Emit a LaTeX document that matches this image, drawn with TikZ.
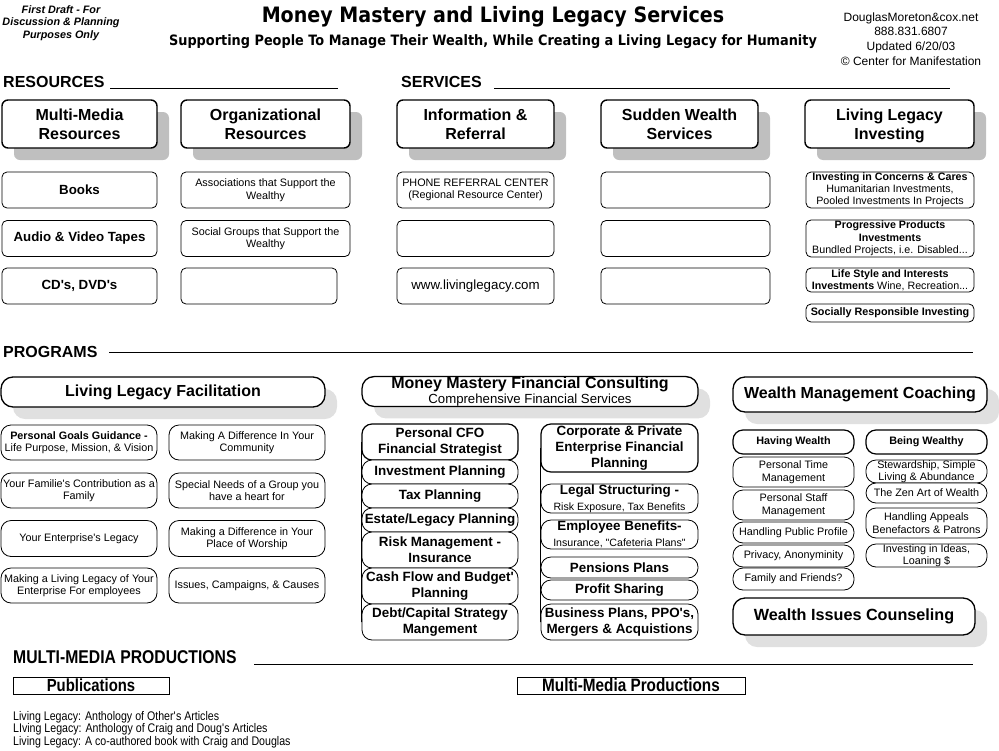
\documentclass[tikz,border=0pt]{standalone}
\usepackage{fontspec}
\setmainfont{Liberation Sans}
\newfontfamily\titlefont[FakeStretch=0.9]{DejaVu Sans}
\newfontfamily\narrowfont[FakeStretch=0.85]{Liberation Sans}
\usetikzlibrary{shadows}
\tikzset{
  sz/.style 2 args={minimum width=#1pt, minimum height=#2pt},
  headbox/.style={draw, line width=1.4pt, rounded corners=6pt, fill=white, align=center,
    inner sep=0pt, text depth=0pt, font=\bfseries\fontsize{16}{19}\selectfont,
    drop shadow={shadow xshift=12pt, shadow yshift=-12pt, fill=black!25, opacity=1}},
  subbox/.style={draw, line width=0.8pt, rounded corners=5pt, fill=white, align=center,
    inner sep=0pt, font=\fontsize{10.8}{12.5}\selectfont},
  progbox/.style={draw, line width=1.3pt, rounded corners=12pt, fill=white, align=center,
    inner sep=0pt, drop shadow={shadow xshift=12pt, shadow yshift=-12pt, fill=black!12, opacity=1}},
  itembox/.style={draw, line width=0.8pt, rounded corners=10pt, fill=white, align=center,
    inner sep=0pt, font=\fontsize{10.8}{12.5}\selectfont},
  boldbox/.style={itembox, font=\bfseries\fontsize{13.4}{16}\selectfont},
  seclabel/.style={anchor=base west, inner sep=0pt, font=\bfseries\fontsize{16}{18}\selectfont},
  secrule/.style={line width=0.8pt},
  pubbox/.style={draw, line width=0.8pt, inner sep=0pt, font=\narrowfont\bfseries\fontsize{17.5}{18}\selectfont}
}
\newcommand{\bx}[1]{{\bfseries #1}}
\newcommand{\ap}{\textquotesingle}
\begin{document}
\begin{tikzpicture}[x=1pt, y=-1pt]
\useasboundingbox (0,0) rectangle (999,750);

% header
\node[font=\bfseries\itshape\fontsize{10.8}{12.5}\selectfont, align=center] (draft) at (61,23)
  {First Draft - For\\Discussion \& Planning\\Purposes Only};
\node[font=\titlefont\bfseries\fontsize{21.2}{24}\selectfont] (title) at (493,17)
  {Money Mastery and Living Legacy Services};
\node[font=\titlefont\bfseries\fontsize{14.3}{16}\selectfont] (subtitle) at (493,42)
  {Supporting People To Manage Their Wealth, While Creating a Living Legacy for Humanity};
\node[font=\fontsize{12}{14.7}\selectfont, align=center] (contact) at (911,39)
  {DouglasMoreton\&cox.net\\888.831.6807\\Updated 6/20/03\\\textcopyright{} Center for Manifestation};

% section rules
\node[seclabel] (reslbl) at (3,87) {RESOURCES};
\node[seclabel] (serlbl) at (401,87) {SERVICES};
\node[seclabel] (prolbl) at (3,357) {PROGRAMS};
\node[seclabel, font=\narrowfont\bfseries\fontsize{18.5}{20}\selectfont] (mmplbl) at (13,663) {MULTI-MEDIA PRODUCTIONS};
\coordinate (resa) at (110,88); \coordinate (resb) at (338,88);
\coordinate (sera) at (494,88); \coordinate (serb) at (950,88);
\coordinate (proa) at (109,352); \coordinate (prob) at (973,352);
\coordinate (mmpa) at (254,664); \coordinate (mmpb) at (973,664);
\draw[secrule] (resa) -- (resb);
\draw[secrule] (sera) -- (serb);
\draw[secrule] (proa) -- (prob);
\draw[secrule] (mmpa) -- (mmpb);

% resources
\node[headbox, sz={155}{48}] (mmres) at (79.5,124) {Multi-Media\\Resources};
\node[headbox, sz={169}{48}] (orgres) at (265.5,124) {Organizational\\Resources};
\node[subbox, sz={155}{36}, font=\bfseries\fontsize{13.3}{15}\selectfont] (books) at (79.5,190) {Books};
\node[subbox, sz={155}{36}, font=\bfseries\fontsize{13.3}{15}\selectfont] (tapes) at (79.5,238.5) {Audio \& Video Tapes};
\node[subbox, sz={155}{36}, font=\bfseries\fontsize{13.3}{15}\selectfont] (cds) at (79.5,286) {CD\ap s, DVD\ap s};
\node[subbox, sz={169}{36}] (assoc) at (265.5,190) {Associations that Support the\\Wealthy};
\node[subbox, sz={169}{36}] (social) at (265.5,238.5) {Social Groups that Support the\\Wealthy};
\node[subbox, sz={156}{36}] (orgempty) at (259,286) {};

% services
\node[headbox, sz={157}{48}] (inforef) at (475.5,124) {Information \&\\Referral};
\node[headbox, sz={157}{48}] (sudden) at (679.5,124) {Sudden Wealth\\Services};
\node[headbox, sz={169}{48}] (llinv) at (889.5,124) {Living Legacy\\Investing};
\node[subbox, sz={157}{36}] (phone) at (475.5,190) {PHONE REFERRAL CENTER\\(Regional Resource Center)};
\node[subbox, sz={157}{36}, font=\fontsize{13.3}{15}\selectfont] (web) at (475.5,286) {www.livinglegacy.com};
\node[subbox, sz={157}{36}] (infoempty) at (475.5,238.5) {};
\node[subbox, sz={169}{36}] (swa) at (685.5,190) {};
\node[subbox, sz={169}{36}] (swb) at (685.5,238.5) {};
\node[subbox, sz={169}{36}] (swc) at (685.5,286) {};
\node[subbox, sz={168}{36}, font=\fontsize{10.7}{12}\selectfont] (concerns) at (890,190)
  {\bx{Investing in Concerns \& Cares}\\Humanitarian Investments,\\Pooled Investments In Projects};
\node[subbox, sz={168}{37}, font=\fontsize{10.7}{12.3}\selectfont] (progress) at (890,238.5)
  {\bx{Progressive Products}\\\bx{Investments}\\Bundled Projects, i.e. Disabled...};
\node[subbox, sz={168}{24}, font=\fontsize{10.7}{12}\selectfont] (lifestyle) at (890,280)
  {\bx{Life Style and Interests}\\\bx{Investments} Wine, Recreation...};
\node[subbox, sz={168}{18}, font=\bfseries\fontsize{10.8}{12}\selectfont] (socially) at (890,313)
  {Socially Responsible Investing};

% programs: living legacy facilitation
\node[progbox, sz={324}{30}, font=\bfseries\fontsize{16}{18}\selectfont] (llfac) at (163,392) {Living Legacy Facilitation};
\node[itembox, sz={156}{35}] (goals) at (79,442.5) {\bx{Personal Goals Guidance -}\\Life Purpose, Mission, \& Vision};
\node[itembox, sz={156}{35}] (family) at (79,490.5) {Your Familie\ap s Contribution as a\\Family};
\node[itembox, sz={156}{36}] (enterprise) at (79,538.5) {Your Enterprise\ap s Legacy};
\node[itembox, sz={156}{35}] (employees) at (79,585.5) {Making a Living Legacy of Your\\Enterprise For employees};
\node[itembox, sz={156}{35}] (community) at (247,442.5) {Making A Difference In Your\\Community};
\node[itembox, sz={156}{35}] (needs) at (247,490.5) {Special Needs of a Group you\\have a heart for};
\node[itembox, sz={156}{36}] (worship) at (247,538.5) {Making a Difference in Your\\Place of Worship};
\node[itembox, sz={156}{35}] (causes) at (247,585.5) {Issues, Campaigns, \& Causes};

% programs: money mastery
\node[progbox, sz={336}{29}, font=\fontsize{13.2}{15.5}\selectfont] (mmfc) at (530,391.5)
  {{\bfseries\fontsize{16}{16}\selectfont Money Mastery Financial Consulting}\\Comprehensive Financial Services};
\node[boldbox, sz={156}{36}, line width=1.2pt] (cfo) at (440,442) {Personal CFO\\Financial Strategist};
\node[boldbox, sz={156}{24}] (invest) at (440,472) {Investment Planning};
\node[boldbox, sz={156}{24}] (tax) at (440,496) {Tax Planning};
\node[boldbox, sz={156}{24}] (estate) at (440,520) {Estate/Legacy Planning};
\node[boldbox, sz={156}{36}] (risk) at (440,550) {Risk Management -\\Insurance};
\node[boldbox, sz={156}{36}] (cash) at (440,586) {Cash Flow and Budget\ap\\Planning};
\node[boldbox, sz={156}{36}] (debt) at (440,622) {Debt/Capital Strategy\\Mangement};
\node[boldbox, sz={157}{48}, line width=1.2pt] (corp) at (619.5,448) {Corporate \& Private\\Enterprise Financial\\Planning};
\node[boldbox, sz={157}{29}] (legal) at (619.5,498.5)
  {Legal Structuring -\\{\mdseries\fontsize{10.6}{12}\selectfont Risk Exposure, Tax Benefits}};
\node[boldbox, sz={157}{29}] (benefits) at (619.5,534.5)
  {Employee Benefits-\\{\mdseries\fontsize{10.6}{12}\selectfont Insurance, \textquotedbl Cafeteria Plans\textquotedbl}};
\node[boldbox, sz={157}{21}] (pensions) at (619.5,567.5) {Pensions Plans};
\node[boldbox, sz={157}{20}] (profit) at (619.5,590) {Profit Sharing};
\node[boldbox, sz={157}{36}] (business) at (619.5,622) {Business Plans, PPO\ap s,\\Mergers \& Acquistions};
\draw[line width=0.8pt] (cfo.west) -- (debt.west);
\draw[line width=0.8pt] (corp.west) -- (business.west);

% programs: wealth coaching
\node[progbox, sz={254}{35}, font=\bfseries\fontsize{16}{18}\selectfont] (wmc) at (860,394.5) {Wealth Management Coaching};
\node[itembox, sz={121}{24}, line width=1.2pt, font=\bfseries\fontsize{10.8}{12.5}\selectfont] (having) at (793.5,442) {Having Wealth};
\node[itembox, sz={121}{24}, line width=1.2pt, font=\bfseries\fontsize{10.8}{12.5}\selectfont] (being) at (926.5,442) {Being Wealthy};
\node[itembox, sz={121}{30}] (ptime) at (793.5,472) {Personal Time\\Management};
\node[itembox, sz={121}{30}] (pstaff) at (793.5,505) {Personal Staff\\Management};
\node[itembox, sz={121}{21}] (public) at (793.5,532.5) {Handling Public Profile};
\node[itembox, sz={121}{22}] (privacy) at (793.5,556) {Privacy, Anonyminity};
\node[itembox, sz={121}{22}] (friends) at (793.5,579) {Family and Friends?};
\node[itembox, sz={121}{23}, font=\fontsize{10.8}{11.5}\selectfont] (steward) at (926.5,471.5) {Stewardship, Simple\\Living \& Abundance};
\node[itembox, sz={121}{20}] (zen) at (926.5,493) {The Zen Art of Wealth};
\node[itembox, sz={121}{30}] (appeals) at (926.5,523) {Handling Appeals\\Benefactors \& Patrons};
\node[itembox, sz={121}{23}, font=\fontsize{10.8}{11.5}\selectfont] (ideas) at (926.5,555.5) {Investing in Ideas,\\Loaning \$};
\node[progbox, sz={242}{37}, font=\bfseries\fontsize{16.2}{18}\selectfont] (wic) at (854,616.5) {Wealth Issues Counseling};

% multi-media productions
\node[pubbox, sz={156}{17}] (pubs) at (91,685.5) {Publications};
\node[pubbox, sz={228}{17}, font=\narrowfont\bfseries\fontsize{18}{18}\selectfont] (mmprod) at (631,685.5) {Multi-Media Productions};
\node[anchor=north west, inner sep=0pt, align=left, font=\narrowfont\fontsize{12.5}{12.5}\selectfont] (publist) at (13,711)
  {Living Legacy: Anthology of Other\ap s Articles\\LIving Legacy: Anthology of Craig and Doug\ap s Articles\\Living Legacy: A co-authored book with Craig and Douglas};
\end{tikzpicture}
\end{document}
